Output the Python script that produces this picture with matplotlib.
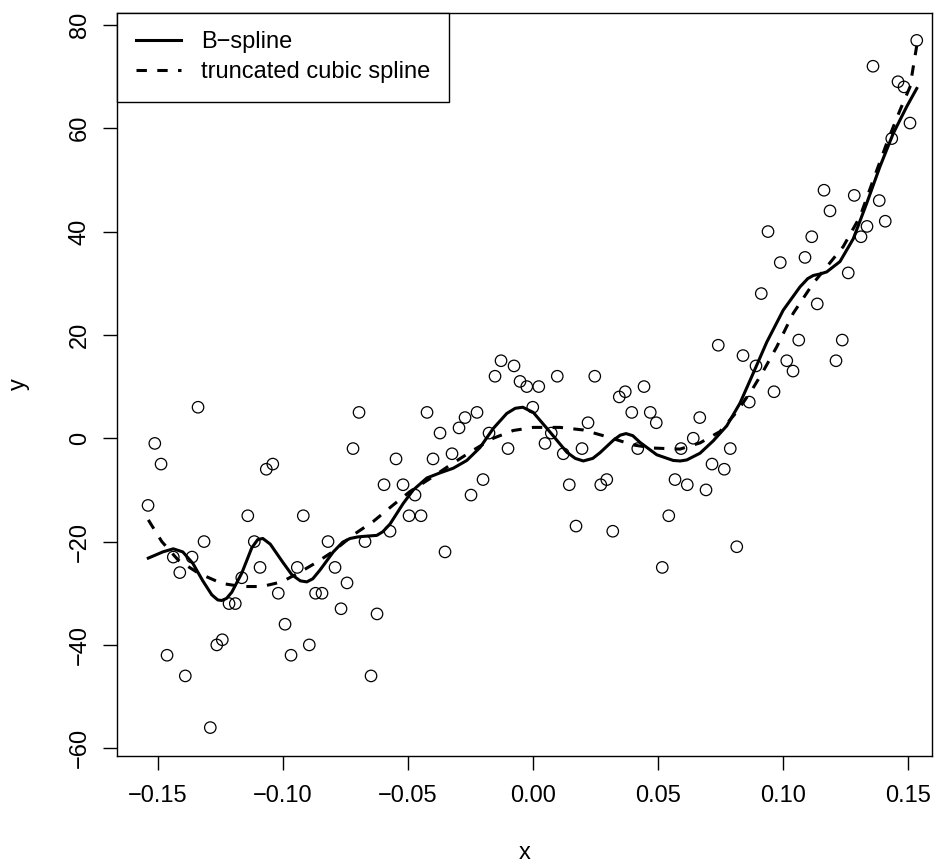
import matplotlib
matplotlib.use("Agg")
import matplotlib.pyplot as plt

plt.rcParams['font.family'] = ['Liberation Sans', 'DejaVu Sans']

# observed points
x = [-0.1539, -0.1512, -0.1487, -0.1463, -0.1438, -0.1412, -0.1390, -0.1363,
     -0.1339, -0.1315, -0.1290, -0.1264, -0.1242, -0.1215, -0.1190, -0.1164,
     -0.1140, -0.1114, -0.1091, -0.1066, -0.1040, -0.1018, -0.0991, -0.0967,
     -0.0942, -0.0918, -0.0894, -0.0869, -0.0843, -0.0819, -0.0791, -0.0767,
     -0.0743, -0.0719, -0.0695, -0.0671, -0.0647, -0.0623, -0.0595, -0.0571,
     -0.0547, -0.0519, -0.0495, -0.0471, -0.0447, -0.0423, -0.0399, -0.0371,
     -0.0351, -0.0323, -0.0295, -0.0271, -0.0247, -0.0223, -0.0199, -0.0175,
     -0.0151, -0.0127, -0.0099, -0.0075, -0.0051, -0.0024, 0.0000, 0.0024,
     0.0049, 0.0074, 0.0098, 0.0122, 0.0146, 0.0173, 0.0197, 0.0221,
     0.0248, 0.0272, 0.0296, 0.0320, 0.0346, 0.0370, 0.0396, 0.0420,
     0.0445, 0.0470, 0.0494, 0.0518, 0.0544, 0.0569, 0.0593, 0.0618,
     0.0642, 0.0668, 0.0693, 0.0717, 0.0742, 0.0766, 0.0790, 0.0816,
     0.0841, 0.0866, 0.0893, 0.0914, 0.0941, 0.0965, 0.0990, 0.1016,
     0.1041, 0.1064, 0.1089, 0.1116, 0.1138, 0.1165, 0.1189, 0.1213,
     0.1238, 0.1262, 0.1286, 0.1313, 0.1337, 0.1361, 0.1386, 0.1410,
     0.1436, 0.1461, 0.1485, 0.1509, 0.1536]
y = [-13, -1, -5, -42, -23, -26, -46, -23, 6, -20, -56, -40, -39, -32, -32, -27,
     -15, -20, -25, -6, -5, -30, -36, -42, -25, -15, -40, -30, -30, -20, -25, -33,
     -28, -2, 5, -20, -46, -34, -9, -18, -4, -9, -15, -11, -15, 5, -4, 1,
     -22, -3, 2, 4, -11, 5, -8, 1, 12, 15, -2, 14, 11, 10, 6, 10,
     -1, 1, 12, -3, -9, -17, -2, 3, 12, -9, -8, -18, 8, 9, 5, -2,
     10, 5, 3, -25, -15, -8, -2, -9, 0, 4, -10, -5, 18, -6, -2, -21,
     16, 7, 14, 28, 40, 9, 34, 15, 13, 19, 35, 39, 26, 48, 44, 15,
     19, 32, 47, 39, 41, 72, 46, 42, 58, 69, 68, 61, 77]

# B-spline fit
bs_x = [-0.1538, -0.1480, -0.1438, -0.1400, -0.1360, -0.1320, -0.1284, -0.1260,
        -0.1244, -0.1225, -0.1204, -0.1164, -0.1124, -0.1100, -0.1080, -0.1050,
        -0.1000, -0.0964, -0.0930, -0.0904, -0.0880, -0.0851, -0.0798, -0.0760,
        -0.0731, -0.0700, -0.0678, -0.0624, -0.0600, -0.0571, -0.0518, -0.0478,
        -0.0424, -0.0371, -0.0318, -0.0264, -0.0211, -0.0158, -0.0104, -0.0070,
        -0.0040, 0.0002, 0.0069, 0.0136, 0.0170, 0.0202, 0.0240, 0.0269,
        0.0322, 0.0350, 0.0373, 0.0400, 0.0429, 0.0496, 0.0562, 0.0590,
        0.0616, 0.0669, 0.0722, 0.0776, 0.0829, 0.0882, 0.0936, 0.1002,
        0.1069, 0.1100, 0.1122, 0.1150, 0.1176, 0.1229, 0.1282, 0.1336,
        0.1389, 0.1442, 0.1496, 0.1536]
bs_y = [-23.2, -22.0, -21.4, -22.0, -24.2, -27.6, -30.3, -31.3,
        -31.4, -31.0, -29.8, -26.1, -21.2, -19.6, -19.4, -20.5,
        -24.0, -26.4, -27.6, -27.8, -27.2, -25.5, -22.0, -20.1,
        -19.4, -19.1, -19.0, -18.8, -18.1, -16.6, -12.6, -10.0,
        -7.7, -6.7, -5.8, -4.3, -1.8, 1.9, 4.8, 5.8,
        6.0, 5.0, 1.2, -2.7, -3.9, -4.4, -3.9, -2.8,
        -0.4, 0.6, 0.9, 0.5, -0.8, -3.2, -4.3, -4.4,
        -4.2, -2.9, -0.5, 2.4, 6.8, 12.6, 18.6, 24.8,
        29.3, 30.9, 31.5, 31.8, 32.2, 34.2, 38.6, 45.5,
        52.6, 59.0, 64.2, 67.7]

# truncated cubic spline fit
tc_x = [-0.1538, -0.1484, -0.1418, -0.1338, -0.1244, -0.1164, -0.1084, -0.1004,
        -0.0938, -0.0871, -0.0798, -0.0718, -0.0638, -0.0558, -0.0491, -0.0398,
        -0.0331, -0.0238, -0.0158, -0.0078, 0.0002, 0.0109, 0.0202, 0.0296,
        0.0402, 0.0482, 0.0589, 0.0669, 0.0749, 0.0816, 0.0876, 0.0922,
        0.0976, 0.1042, 0.1122, 0.1176, 0.1242, 0.1309, 0.1362, 0.1416,
        0.1469, 0.1509, 0.1536]
tc_y = [-15.8, -20.0, -23.6, -26.1, -28.1, -28.7, -28.7, -27.8,
        -26.1, -24.2, -21.9, -18.7, -16.1, -12.9, -10.3, -7.4,
        -5.2, -2.3, 0.0, 1.5, 2.1, 2.1, 1.6, 0.3,
        -1.3, -1.9, -2.1, -0.9, 1.3, 5.1, 9.3, 13.0,
        17.7, 24.2, 30.0, 33.2, 37.1, 42.9, 50.0, 57.1,
        63.5, 68.0, 76.0]

W, H = 935, 867
fig = plt.figure(figsize=(W / 100, H / 100), dpi=100)
ax = fig.add_axes([117.3 / W, 1 - 756 / H, (932 - 117.3) / W, (756 - 12.5) / H])

ax.scatter(x, y, s=68, facecolors='none', edgecolors='black', linewidths=0.9, zorder=2)
ax.plot(bs_x, bs_y, color='black', lw=2.2, solid_joinstyle='round',
        label='B\u2212spline', zorder=3)
ax.plot(tc_x, tc_y, color='black', lw=2.2, dashes=(3.4, 3.4),
        label='truncated cubic spline', zorder=3)

ax.set_xlim(-0.1662, 0.1597)
ax.set_ylim(-61.5, 82.4)
ax.set_xticks([-0.15, -0.10, -0.05, 0.00, 0.05, 0.10, 0.15])
ax.set_xticklabels(['\u22120.15', '\u22120.10', '\u22120.05', '0.00', '0.05', '0.10', '0.15'])
ax.set_yticks([-60, -40, -20, 0, 20, 40, 60, 80])
ax.set_yticklabels(['\u221260', '\u221240', '\u221220', '0', '20', '40', '60', '80'],
                   rotation=90, va='center')
ax.tick_params(direction='out', length=10, width=1, labelsize=17, pad=11)
ax.tick_params(axis='y', pad=9)
for s in ax.spines.values():
    s.set_linewidth(1)

ax.set_xlabel('x', fontsize=17, labelpad=25)
ax.set_ylabel('y', fontsize=17, labelpad=28)

leg = ax.legend(loc='upper left', bbox_to_anchor=(0, 1), borderaxespad=0,
                fancybox=False, edgecolor='black', framealpha=1, fontsize=17,
                handlelength=1.9, handletextpad=0.85, labelspacing=0.32,
                borderpad=0.8)
leg.get_frame().set_linewidth(1)

fig.savefig('out.png', dpi=100)
